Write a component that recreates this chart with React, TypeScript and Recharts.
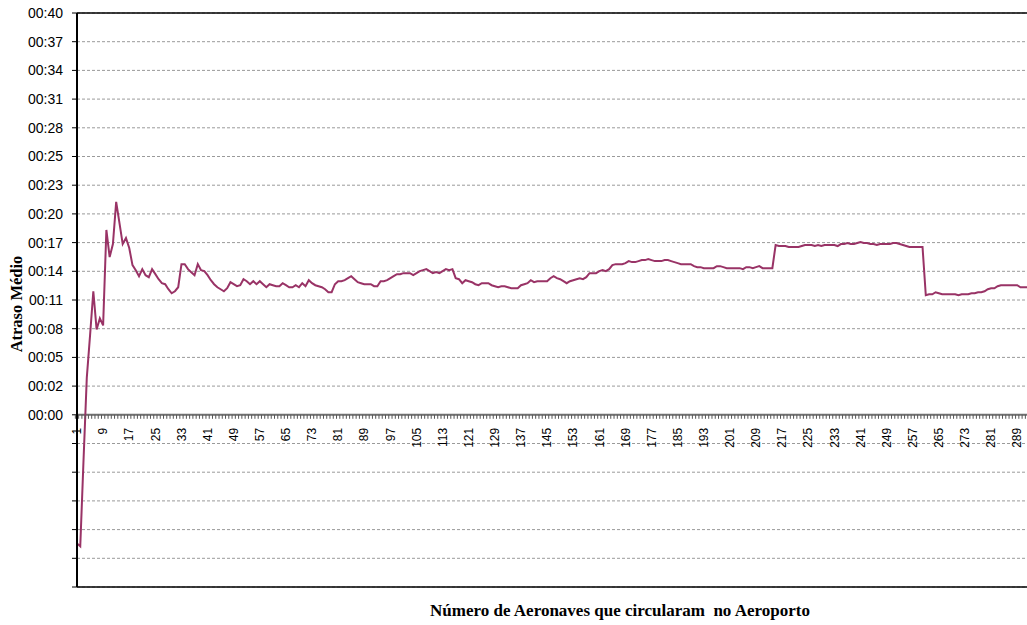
import { LineChart, Line, XAxis, YAxis, CartesianGrid, ReferenceLine } from 'recharts';

// average delay (minutes) per aircraft count
const delaySeg1 = [
  -12.8, -13.1, -4.5, 3.7, 7.9, 12.3, 8.5, 9.6, 8.9, 18.4,
  15.7, 17.0, 21.2, 19.1, 17.0, 17.6, 16.6, 14.9, 14.4, 13.8,
  14.5, 13.9, 13.7, 14.5, 14.0, 13.5, 13.1, 13.0, 12.5, 12.1,
  12.3, 12.7, 15.0, 15.0, 14.5, 14.2, 13.9, 15.0, 14.4, 14.3,
  13.9, 13.4, 13.0, 12.7, 12.5, 12.3, 12.6, 13.2, 13.0, 12.8,
];
const delaySeg2 = [
  12.9, 13.5, 13.3, 13.0, 13.3, 13.0, 13.3, 13.0, 12.7, 13.0,
  12.9, 12.8, 12.8, 13.1, 12.9, 12.7, 12.7, 12.9, 12.7, 13.1,
  12.8, 13.4, 13.1, 12.9, 12.8, 12.7, 12.5, 12.2, 12.2, 13.0,
  13.3, 13.3, 13.4, 13.6, 13.8, 13.5, 13.2, 13.1, 13.0, 13.0,
  13.0, 12.8, 12.8, 13.3, 13.3, 13.4, 13.6, 13.8, 14.0, 14.0,
];
const delaySeg3 = [
  14.1, 14.1, 14.1, 13.9, 14.1, 14.3, 14.4, 14.5, 14.3, 14.1,
  14.2, 14.1, 14.3, 14.5, 14.4, 14.5, 13.6, 13.5, 13.1, 13.4,
  13.3, 13.2, 13.0, 12.9, 13.1, 13.1, 13.1, 12.9, 12.8, 12.7,
  12.8, 12.8, 12.7, 12.6, 12.6, 12.6, 12.9, 13.0, 13.1, 13.4,
  13.2, 13.3, 13.3, 13.3, 13.3, 13.6, 13.8, 13.6, 13.5, 13.3,
];
const delaySeg4 = [
  13.1, 13.3, 13.4, 13.5, 13.6, 13.5, 13.7, 14.1, 14.1, 14.1,
  14.3, 14.4, 14.3, 14.5, 14.9, 15.0, 15.0, 15.0, 15.1, 15.3,
  15.2, 15.2, 15.3, 15.4, 15.4, 15.5, 15.4, 15.3, 15.3, 15.3,
  15.4, 15.4, 15.3, 15.2, 15.1, 15.0, 15.0, 15.0, 15.0, 14.8,
  14.7, 14.7, 14.6, 14.6, 14.6, 14.6, 14.8, 14.8, 14.7, 14.6,
];
const delaySeg5 = [
  14.6, 14.6, 14.6, 14.6, 14.5, 14.7, 14.7, 14.6, 14.7, 14.8,
  14.6, 14.6, 14.6, 14.6, 16.9, 16.8, 16.8, 16.8, 16.7, 16.7,
  16.7, 16.7, 16.8, 16.9, 16.9, 16.9, 16.8, 16.9, 16.8, 16.9,
  16.9, 16.9, 16.9, 16.8, 17.0, 17.0, 17.1, 17.0, 17.0, 17.1,
  17.2, 17.1, 17.1, 17.0, 17.0, 16.9, 17.0, 17.0, 17.0, 17.0,
];
const delaySeg6 = [
  17.1, 17.1, 17.0, 16.9, 16.8, 16.7, 16.7, 16.7, 16.7, 16.7,
  11.9, 12.0, 12.0, 12.2, 12.1, 12.0, 12.0, 12.0, 12.0, 12.0,
  11.9, 12.0, 12.0, 12.0, 12.1, 12.1, 12.2, 12.2, 12.3, 12.5,
  12.6, 12.6, 12.8, 12.9, 12.9, 12.9, 12.9, 12.9, 12.9, 12.7,
  12.7, 12.7,
];

const xTickLabels = [
  1, 9, 17, 25, 33, 41, 49, 57, 65, 73, 81, 89, 97, 105, 113, 121, 129, 137, 145,
  153, 161, 169, 177, 185, 193, 201, 209, 217, 225, 233, 241, 249, 257, 265, 273, 281, 289,
];
const yTickLabels = [
  '00:00', '00:02', '00:05', '00:08', '00:11', '00:14', '00:17', '00:20',
  '00:23', '00:25', '00:28', '00:31', '00:34', '00:37', '00:40',
];

const delays = [...delaySeg1, ...delaySeg2, ...delaySeg3, ...delaySeg4, ...delaySeg5, ...delaySeg6];
const data = delays.map((d, i) => ({ cat: i + 1, delay: d }));

const W = 1027;
const H = 625;
const MARGIN = { top: 13, right: 0, bottom: 0, left: 0 };
const Y_AXIS_W = 77;
const X_AXIS_H = 38;

// 14 equal steps from 0 to 40 min, plus 6 more below zero
const STEP = 40 / 14;
const Y_MAX = 14 * STEP;
const Y_MIN = -6 * STEP;
const yTicks = Array.from({ length: 21 }, (_, k) => (k - 6) * STEP);

const plotH = H - MARGIN.top - MARGIN.bottom - X_AXIS_H;
const plotW = W - MARGIN.left - MARGIN.right - Y_AXIS_W;
const zeroY = MARGIN.top + (plotH * Y_MAX) / (Y_MAX - Y_MIN);
const band = plotW / data.length;

const LABEL_FONT = '"Liberation Sans", Arial, sans-serif';
const TITLE_FONT = '"Liberation Serif", "Times New Roman", serif';

function XTick(props: any) {
  const { x, payload } = props;
  const show = xTickLabels.includes(payload.value);
  const ty = zeroY + 13;
  return (
    <g>
      <line x1={x - band / 2} x2={x - band / 2} y1={zeroY} y2={zeroY + 4} stroke="#555" strokeWidth={1} />
      {show && (
        <text
          x={x}
          y={ty}
          dy="0.35em"
          textAnchor="end"
          transform={`rotate(-90 ${x} ${ty})`}
          fontSize={12}
          fontFamily={LABEL_FONT}
          fill="#000"
        >
          {payload.value}
        </text>
      )}
    </g>
  );
}

export default function App() {
  return (
    <div style={{ position: 'absolute', left: 0, top: 0, width: W, height: H, background: '#fff' }}>
      <LineChart width={W} height={H} data={data} margin={MARGIN}>
        <CartesianGrid vertical={false} stroke="#9a9a9a" strokeDasharray="3 2" />
        <XAxis
          dataKey="cat"
          height={X_AXIS_H}
          interval={0}
          axisLine={false}
          tickLine={false}
          tick={<XTick />}
        />
        <YAxis
          width={Y_AXIS_W}
          domain={[Y_MIN, Y_MAX]}
          ticks={yTicks}
          interval={0}
          tickSize={5}
          tickMargin={9}
          axisLine={{ stroke: '#000', strokeWidth: 2 }}
          tickLine={{ stroke: '#000' }}
          tick={{ fill: '#000', fontSize: 14, fontFamily: LABEL_FONT }}
          tickFormatter={(v: number) => {
            const k = Math.round(v / STEP);
            return k >= 0 ? yTickLabels[k] : '';
          }}
        />
        <ReferenceLine y={0} stroke="#707070" strokeWidth={2} />
        <ReferenceLine y={Y_MAX} stroke="#000" strokeWidth={1.5} />
        <ReferenceLine y={Y_MIN} stroke="#000" strokeWidth={1.5} />
        <Line
          type="linear"
          dataKey="delay"
          stroke="#993366"
          strokeWidth={2}
          dot={false}
          isAnimationActive={false}
        />
      </LineChart>
      <div
        style={{
          position: 'absolute',
          left: 17 - 100,
          top: 304 - 10,
          width: 200,
          height: 20,
          lineHeight: '20px',
          textAlign: 'center',
          transform: 'rotate(-90deg)',
          fontFamily: TITLE_FONT,
          fontWeight: 'bold',
          fontSize: 16.5,
        }}
      >
        Atraso Médio
      </div>
      <div
        style={{
          position: 'absolute',
          left: 620 - 300,
          top: 601,
          width: 600,
          height: 20,
          lineHeight: '20px',
          textAlign: 'center',
          whiteSpace: 'pre',
          fontFamily: TITLE_FONT,
          fontWeight: 'bold',
          fontSize: 17,
        }}
      >
        Número de Aeronaves que circularam  no Aeroporto
      </div>
    </div>
  );
}
